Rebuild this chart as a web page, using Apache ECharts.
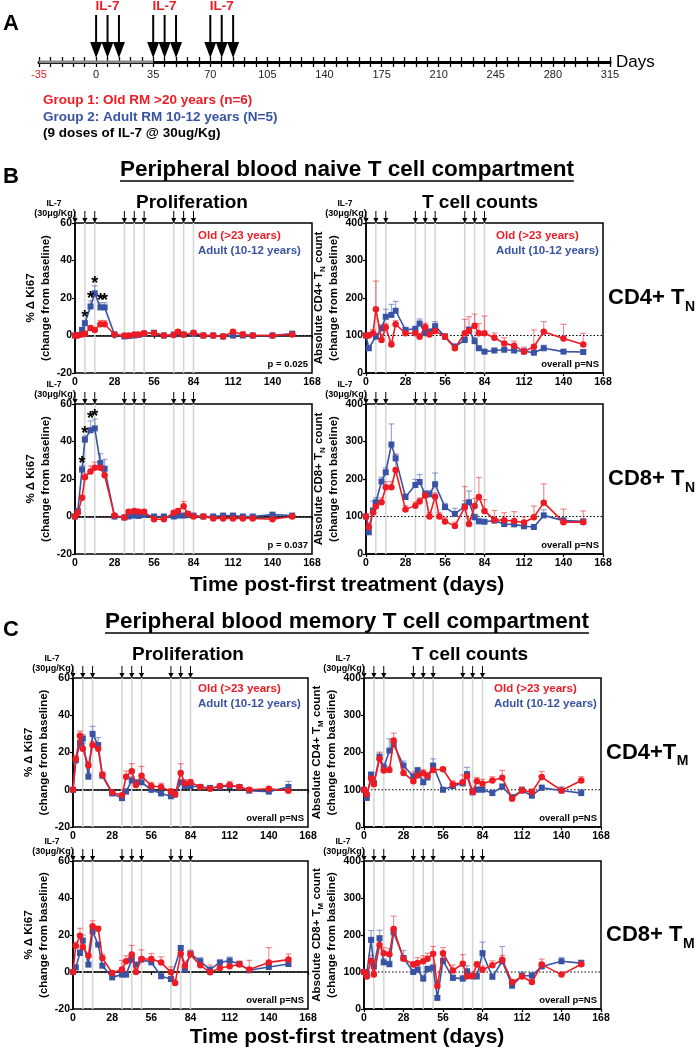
<!DOCTYPE html>
<html><head><meta charset="utf-8">
<script src="https://cdn.jsdelivr.net/npm/echarts@6/dist/echarts.min.js"></script>
<style>html,body{margin:0;padding:0;background:#fff}#c{width:697px;height:1050px}</style>
</head><body><div id="c"></div>
<script>
// ---------------- DATA ----------------
const DAYS = [0,2,5,7,11,14,18,21,28,35,38,42,45,49,52,56,63,70,73,77,80,84,91,98,105,112,119,126,140,154];
const DOSE_DAYS = [0,7,14,35,42,49,70,77,84];
const PRE_PHASE = [-35, 35];
const B1_STAR_DAYS = [7,11,14,18,21];
const B2_STAR_DAYS = [5,7,11,14];

// B: naive, proliferation CD4
const B1_ADULT = [0,0.3,3,6.5,15.5,22.5,15,15,0.5,-0.5,-0.3,0,0.3,1,null,1.5,0,0.5,null,0.5,null,1,0,0,-0.5,0,0,0,0,1];
const B1_ADULT_ERR = [0,0.5,1,1.5,3,4,2.5,2.5,0.5,0.5,0.3,0.5,0.5,0.5,null,1,0.3,0.5,null,0.5,null,0.5,0.5,0.3,0.3,0.3,0.3,0.3,0.3,0.8];
const B1_OLD = [0,0,0.5,1,4,3,6,6,0.5,0,0,0.5,0.5,1.2,null,1.2,0,0.3,2,0.5,null,1.5,0,0,-0.5,2,0.5,0,0,0.5];
const B1_OLD_ERR = [0,0.3,0.5,0.5,1,1,2,2,0.5,0.3,0.3,0.5,0.5,0.5,null,0.5,0.3,0.3,1,0.5,null,0.8,0.3,0.3,0.3,0.8,1.5,0.3,0.3,0.3];
// B: naive, proliferation CD8
const B2_ADULT = [0,3,25,41,46,47,28.5,25.5,0,-0.5,0,0.5,0.3,1,null,0,0,0,0.5,0.5,1,0.5,0,0,0.5,0.5,0,0,1,0.5];
const B2_ADULT_ERR = [0,1,2,2,5,5,5,5,1,0.5,0.5,1,0.5,0.5,null,0.5,0.5,0.5,0.5,0.5,0.5,0.5,0.5,0.5,0.5,0.5,0.5,0.5,0.5,0.5];
const B2_OLD = [0,2,10,21,24,26,26,22,0.5,-0.5,2.5,3,2.5,2.5,null,-1.5,-1.5,2,3,5.5,1.5,0,0,-1,-1,-1,-1,-1,-1.5,0];
const B2_OLD_ERR = [0,0.5,1,2,3,3,3,3,1,0.5,1,1,1,1,null,0.5,0.5,1,1,2.5,1,0.5,0.5,0.5,0.5,0.5,0.5,0.5,0.5,0.5];
// B: naive, counts CD4
const B3_ADULT = [100,66,null,97,119,150,155,166,115,118,132,106,110,125,null,97,70,88,115,85,66,57,60,62,60,58,54,66,57,56];
const B3_ADULT_ERR = [0,5,null,8,10,20,28,25,5,5,12,8,8,12,null,5,8,5,8,10,5,5,5,5,5,5,5,8,5,5];
const B3_OLD = [100,100,106,170,88,122,76,130,106,106,97,123,103,112,null,97,66,106,112,126,106,106,94,79,73,57,70,110,92,76];
const B3_OLD_ERR = [0,8,10,75,15,10,8,10,8,8,8,10,8,10,null,8,8,37,38,31,26,46,13,15,12,12,45,27,38,30];
// B: naive, counts CD8
const B4_ADULT = [100,58,116,138,193,218,292,255,152,184,192,159,159,186,null,125,107,127,138,98,87,86,89,80,79,74,72,103,89,87];
const B4_ADULT_ERR = [0,10,25,12,12,12,55,12,8,15,20,10,10,30,null,10,15,15,30,8,8,5,5,5,5,5,5,15,8,5];
const B4_OLD = [100,72,111,127,138,178,178,224,119,129,140,156,100,153,100,87,75,125,80,128,152,115,91,90,88,84,98,137,85,85];
const B4_OLD_ERR = [0,8,10,10,12,15,15,40,10,10,10,10,10,10,10,10,10,55,15,20,52,30,25,20,25,15,30,50,35,30];
// C: memory, proliferation CD4
const C1_ADULT = [0,15.8,25,27.5,7,30,24,7.5,-2,-4.5,-1,5,4,4,null,0,-2,-3.5,-2.5,4,2,2,1.5,1,1.5,2,1.5,-0.5,-1,1.5];
const C1_ADULT_ERR = [0,2,2,2,2,4,4,1.5,1,1,1.5,2,1,1,null,1,1,1,1,1,1,1,1,1,1,1,1,1,1,3];
const C1_OLD = [0,16.5,29,22,13,24,22,8,-1.5,-3,7,10,2.5,7.5,null,2,1.5,-1,-2.5,9,3.5,4,1.5,0.5,2,2.5,1.5,0,0.5,-0.5];
const C1_OLD_ERR = [0,2,2.5,3,1.5,2,2,1.5,1,1,3,4,2,5,null,2,2,1.5,1.5,5,2,1.5,1,1,1,2,1,1,1,1];
// C: memory, proliferation CD8
const C2_ADULT = [0,2.5,10.3,17,4,22,14.8,3.4,-2.9,-1.4,-1.4,6.7,4,6.7,null,5.2,-2.3,-3.8,null,13,1.3,9.9,5.8,1.3,5.2,6.1,4.3,0.9,2.7,4.3];
const C2_ADULT_ERR = [0,1,2,3,1,3,1,1,1,1,1,1,1,1,null,1,1,1,null,1,1,1,2,1,1,2,1,1,1,1];
const C2_OLD = [0,14.2,19.6,13.5,8.8,24.7,23.4,7.6,-0.5,1.3,5.8,9.4,0,7,null,7,5.2,-0.2,-6,9.9,3.4,9.4,3.6,-0.2,2.2,3.1,4,1.3,5.2,6.7];
const C2_OLD_ERR = [0,2,4,1,1,3,1,2,1,5,3,5,2,5,null,3,3,3,1,2,2.5,2.5,2,4,2.5,2.5,2,5,8,3];
// C: memory, counts CD4
const C3_ADULT = [100,78,140,118,188,160,205,222,165,135,152,120,133,165,null,100,110,117,142,93,100,100,91,108,80,98,84,105,98,91];
const C3_ADULT_ERR = [0,5,8,5,10,10,32,15,12,8,8,8,8,18,null,5,8,8,18,8,8,8,8,8,5,8,5,8,10,10];
const C3_OLD = [100,87,130,115,183,152,153,232,145,123,138,144,137,153,null,155,114,120,136,94,123,116,125,132,76,98,94,134,98,125];
const C3_OLD_ERR = [0,5,8,5,18,10,10,20,10,25,10,10,10,15,null,5,10,20,10,10,10,12,10,20,5,10,8,15,5,10];
// C: memory, counts CD8
const C4_ADULT = [100,95,187,115,191,126,121,207,138,100,106,82,108,111,30,130,84,82,102,88,88,151,87,129,63,90,90,115,129,124];
const C4_ADULT_ERR = [0,8,25,12,22,10,8,8,20,5,8,8,8,10,5,20,8,8,15,8,8,30,8,40,5,10,8,10,10,8];
const C4_OLD = [100,88,130,93,173,151,148,216,136,120,124,129,136,149,62,151,104,122,88,90,120,106,118,133,72,88,73,120,93,121];
const C4_OLD_ERR = [0,5,15,8,25,15,15,35,8,8,15,15,15,20,10,15,15,25,10,10,8,10,12,12,8,8,5,15,5,10];

// ---------------- STYLE ----------------
const FONT = '"Liberation Sans", Arial, Helvetica, sans-serif';
const RED = '#ed1c24', BLUE = '#3953a4';
const RED_ERR = 'rgba(237,28,36,0.5)', BLUE_ERR = 'rgba(57,83,164,0.5)';
const KI_TITLE = '% Δ Ki67\n(change from baseline)';

const panels = [
  {left:75, top:223, width:237, height:150, ymin:-20, ymax:60, yint:20, base:0, ytitle:KI_TITLE, gap:14,
   adult:B1_ADULT, adultErr:B1_ADULT_ERR, old:B1_OLD, oldErr:B1_OLD_ERR, stat:'p = 0.025', legend:[123,13], stars:B1_STAR_DAYS},
  {left:366, top:223, width:237, height:150, ymin:0, ymax:400, yint:100, base:100, ytitle:'Absolute CD4+ T{s|N} count\n(change from baseline)', gap:22,
   adult:B3_ADULT, adultErr:B3_ADULT_ERR, old:B3_OLD, oldErr:B3_OLD_ERR, stat:'overall p=NS', legend:[130,13], row:['CD4+ T','N']},
  {left:75, top:404, width:237, height:150, ymin:-20, ymax:60, yint:20, base:0, ytitle:KI_TITLE, gap:14,
   adult:B2_ADULT, adultErr:B2_ADULT_ERR, old:B2_OLD, oldErr:B2_OLD_ERR, stat:'p = 0.037', stars:B2_STAR_DAYS},
  {left:366, top:404, width:237, height:150, ymin:0, ymax:400, yint:100, base:100, ytitle:'Absolute CD8+ T{s|N} count\n(change from baseline)', gap:22,
   adult:B4_ADULT, adultErr:B4_ADULT_ERR, old:B4_OLD, oldErr:B4_OLD_ERR, stat:'overall p=NS', row:['CD8+ T','N']},
  {left:73, top:678, width:235, height:149, ymin:-20, ymax:60, yint:20, base:0, ytitle:KI_TITLE, gap:14,
   adult:C1_ADULT, adultErr:C1_ADULT_ERR, old:C1_OLD, oldErr:C1_OLD_ERR, stat:'overall p=NS', legend:[125,11]},
  {left:364, top:678, width:237, height:149, ymin:0, ymax:400, yint:100, base:100, ytitle:'Absolute CD4+ T{s|M} count\n(change from baseline)', gap:22,
   adult:C3_ADULT, adultErr:C3_ADULT_ERR, old:C3_OLD, oldErr:C3_OLD_ERR, stat:'overall p=NS', legend:[130,11], row:['CD4+T','M']},
  {left:73, top:861, width:235, height:148, ymin:-20, ymax:60, yint:20, base:0, ytitle:KI_TITLE, gap:14,
   adult:C2_ADULT, adultErr:C2_ADULT_ERR, old:C2_OLD, oldErr:C2_OLD_ERR, stat:'overall p=NS'},
  {left:364, top:861, width:237, height:148, ymin:0, ymax:400, yint:100, base:100, ytitle:'Absolute CD8+ T{s|M} count\n(change from baseline)', gap:22,
   adult:C4_ADULT, adultErr:C4_ADULT_ERR, old:C4_OLD, oldErr:C4_OLD_ERR, stat:'overall p=NS', row:['CD8+ T','M']}
];

const mctx = document.createElement('canvas').getContext('2d');
function tw(text, size) { mctx.font = 'bold ' + size + 'px ' + FONT; return mctx.measureText(text).width; }

function T(x, y, text, size, o) {
  o = o || {};
  const al = o.align || 'left';
  return {type:'text', x:x, y:y, silent:true, z:10, style:{text:text, fontSize:size, fontWeight:o.weight||'bold', fontFamily:FONT,
    fill:o.color||'#000', align:al, verticalAlign:'middle', textAlign:al, textVerticalAlign:'middle'}};
}
function L(x1, y1, x2, y2, w) {
  return {type:'line', silent:true, z:10, shape:{x1:x1,y1:y1,x2:x2,y2:y2}, style:{stroke:'#000', lineWidth:w}};
}

// ---------------- TIMELINE (panel A) ----------------
const grids = [{left:39, top:50, width:571, height:12}];
const xAxes = [
  {gridIndex:0, type:'value', min:-35, max:315, interval:35, position:'bottom',
   axisLine:{show:true, lineStyle:{color:'#000', width:3}},
   axisTick:{show:true, length:5, lineStyle:{color:'#000', width:1.3}},
   minorTick:{show:true, splitNumber:5, length:5, lineStyle:{color:'#000', width:1.3}},
   splitLine:{show:false},
   axisLabel:{margin:7, fontSize:11, fontFamily:FONT, color:'#222',
     formatter: v => v === -35 ? '{r|-35}' : String(v), rich:{r:{color:RED, fontSize:11, fontFamily:FONT}}}},
  {gridIndex:0, type:'value', min:-35, max:315, interval:35, position:'bottom', offset:0,
   axisLine:{show:false}, axisLabel:{show:false}, splitLine:{show:false},
   axisTick:{show:true, inside:true, length:5, lineStyle:{color:'#000', width:1.3}},
   minorTick:{show:true, splitNumber:5, length:5, lineStyle:{color:'#000', width:1.3}}}
];
const yAxes = [{gridIndex:0, type:'value', min:0, max:1, show:false}];
const series = [
  {type:'line', xAxisIndex:0, yAxisIndex:0, data:[[PRE_PHASE[0],0],[PRE_PHASE[1],0]], symbol:'none', silent:true, z:3,
   lineStyle:{color:'#8a8a8a', width:3}},
  {type:'custom', xAxisIndex:0, yAxisIndex:0, clip:false, silent:true, z:4,
   data: DOSE_DAYS.map(d => [d, 0]),
   renderItem: (params, api) => {
     const c = api.coord([api.value(0), 0]);
     const ch = [
       {type:'line', shape:{x1:c[0], y1:c[1]-47, x2:c[0], y2:c[1]-19}, style:{stroke:'#000', lineWidth:2}},
       {type:'polygon', shape:{points:[[c[0]-6,c[1]-20],[c[0]+6,c[1]-20],[c[0],c[1]-4]]}, style:{fill:'#000'}}
     ];
     if (params.dataIndex % 3 === 1) {
       ch.push({type:'text', style:{text:'IL-7', x:c[0], y:c[1]-56, fontSize:13.5, fontWeight:'bold', fontFamily:FONT, fill:RED,
         align:'center', verticalAlign:'middle', textAlign:'center', textVerticalAlign:'middle'}});
     }
     return {type:'group', children:ch};
   }}
];

const graphics = [
  T(3, 24, 'A', 22),
  T(616, 62, 'Days', 17, {weight:'normal'}),
  T(43, 100, 'Group 1: Old RM >20 years (n=6)', 13.5, {color:RED}),
  T(43, 117, 'Group 2: Adult RM 10-12 years (N=5)', 13.5, {color:BLUE}),
  T(43, 133, '(9 doses of IL-7 @ 30ug/Kg)', 13.5)
];
function section(letterY, titleY, title, subY, subL, subR, timeY) {
  graphics.push(T(3, letterY, '', 22));
  const w = tw(title, 22.5);
  graphics.push(T(347, titleY, title, 22.5, {align:'center'}));
  graphics.push(L(347 - w/2, titleY + 11, 347 + w/2, titleY + 11, 1.6));
  graphics.push(T(subL, subY, 'Proliferation', 19, {align:'center'}));
  graphics.push(T(subR, subY, 'T cell counts', 19, {align:'center'}));
  graphics.push(T(347, timeY, 'Time post-first treatment (days)', 21, {align:'center'}));
}
graphics.push(T(3, 177, 'B', 22));
graphics.push(T(3, 630, 'C', 22));
section(177, 170, 'Peripheral blood naive T cell compartment', 203, 192, 480, 585);
section(630, 622, 'Peripheral blood memory T cell compartment', 655, 188, 470, 1037);

// ---------------- PANELS ----------------
panels.forEach((p, i) => {
  const gi = i + 1, xi = i + 2, yi = i + 1;
  grids.push({left:p.left, top:p.top, width:p.width, height:p.height, show:true, borderColor:'#000', borderWidth:1.5,
    backgroundColor:'rgba(0,0,0,0)'});
  xAxes.push({gridIndex:gi, type:'value', min:0, max:168, interval:28,
    axisLine:{show:true, lineStyle:{color:'#000', width:1.5}},
    axisTick:{show:true, length:3, lineStyle:{color:'#000', width:1.2}},
    splitLine:{show:false},
    axisLabel:{margin:4, fontSize:10.5, fontWeight:'bold', fontFamily:FONT, color:'#000'}});
  yAxes.push({gridIndex:gi, type:'value', min:p.ymin, max:p.ymax, interval:p.yint,
    axisLine:{show:true, lineStyle:{color:'#000', width:1.5}},
    axisTick:{show:true, length:3, lineStyle:{color:'#000', width:1.2}},
    splitLine:{show:false},
    axisLabel:{margin:3, fontSize:10.5, fontWeight:'bold', fontFamily:FONT, color:'#000'},
    name:p.ytitle, nameLocation:'middle', nameRotate:90, nameGap:p.gap,
    nameTextStyle:{fontSize:11.5, fontWeight:'bold', fontFamily:FONT, color:'#000', lineHeight:15,
      rich:{s:{fontSize:8, fontWeight:'bold', fontFamily:FONT, color:'#000', verticalAlign:'bottom', lineHeight:15}}}});

  const pts = vals => DAYS.map((d, k) => [d, vals[k] == null ? '-' : vals[k]]);
  const errData = (vals, errs) => DAYS.map((d, k) => (vals[k] == null || errs[k] == null) ? null : [d, vals[k], vals[k] + errs[k]]).filter(Boolean);
  const errSeries = (vals, errs, color, z) => ({type:'custom', xAxisIndex:xi, yAxisIndex:yi, silent:true, z:z, clip:false,
    data: errData(vals, errs),
    renderItem: (params, api) => {
      const a = api.coord([api.value(0), api.value(1)]);
      const b = api.coord([api.value(0), api.value(2)]);
      return {type:'group', children:[
        {type:'line', shape:{x1:a[0], y1:a[1], x2:b[0], y2:b[1]}, style:{stroke:color, lineWidth:1.2}},
        {type:'line', shape:{x1:b[0]-3, y1:b[1], x2:b[0]+3, y2:b[1]}, style:{stroke:color, lineWidth:1.2}}
      ]};
    }});

  // dose reference lines inside plot
  series.push({type:'custom', xAxisIndex:xi, yAxisIndex:yi, silent:true, z:1, clip:false,
    data: DOSE_DAYS.filter(d => d > 0).map(d => [d, p.ymin]),
    renderItem: (params, api) => {
      const a = api.coord([api.value(0), p.ymin]);
      const b = api.coord([api.value(0), p.ymax]);
      return {type:'line', shape:{x1:a[0], y1:a[1], x2:b[0], y2:b[1]}, style:{stroke:'#d6d6d6', lineWidth:1.6}};
    }});
  // baseline dotted
  series.push({type:'custom', xAxisIndex:xi, yAxisIndex:yi, silent:true, z:2, clip:false,
    data: [[0, p.base]],
    renderItem: (params, api) => {
      const a = api.coord([0, api.value(1)]);
      const b = api.coord([168, api.value(1)]);
      return {type:'line', shape:{x1:a[0], y1:a[1], x2:b[0], y2:b[1]}, style:{stroke:'#000', lineWidth:1.2, lineDash:[1.5,2]}};
    }});
  // dose arrows above plot
  series.push({type:'custom', xAxisIndex:xi, yAxisIndex:yi, silent:true, z:2, clip:false,
    data: DOSE_DAYS.map(d => [d, p.ymax]),
    renderItem: (params, api) => {
      const c = api.coord([api.value(0), api.value(1)]);
      return {type:'group', children:[
        {type:'line', shape:{x1:c[0], y1:c[1]-12, x2:c[0], y2:c[1]-3}, style:{stroke:'#000', lineWidth:1}},
        {type:'polygon', shape:{points:[[c[0]-2.6,c[1]-5],[c[0]+2.6,c[1]-5],[c[0],c[1]]]}, style:{fill:'#000'}}
      ]};
    }});
  series.push(errSeries(p.adult, p.adultErr, BLUE_ERR, 3));
  series.push(errSeries(p.old, p.oldErr, RED_ERR, 3));
  series.push({type:'line', xAxisIndex:xi, yAxisIndex:yi, data:pts(p.adult), symbol:'rect', symbolSize:6, showAllSymbol:true,
    connectNulls:true, silent:true, z:4, lineStyle:{color:BLUE, width:1.6}, itemStyle:{color:BLUE}});
  series.push({type:'line', xAxisIndex:xi, yAxisIndex:yi, data:pts(p.old), symbol:'circle', symbolSize:6.5, showAllSymbol:true,
    connectNulls:true, silent:true, z:5, lineStyle:{color:RED, width:1.6}, itemStyle:{color:RED}});
  if (p.stars) {
    series.push({type:'custom', xAxisIndex:xi, yAxisIndex:yi, silent:true, z:6, clip:false,
      data: p.stars.map(d => { const k = DAYS.indexOf(d); return [d, p.adult[k] + p.adultErr[k]]; }),
      renderItem: (params, api) => {
        const c = api.coord([api.value(0), api.value(1)]);
        return {type:'text', style:{text:'*', x:c[0], y:c[1]+7, fontSize:18, fontWeight:'bold', fontFamily:FONT, fill:'#000',
          align:'center', verticalAlign:'bottom', textAlign:'center', textVerticalAlign:'bottom'}};
      }});
  }

  // texts
  graphics.push(T(p.left - 21, p.top - 19, 'IL-7', 8.5, {align:'center'}));
  graphics.push(T(p.left - 20, p.top - 9, '(30μg/Kg)', 9, {align:'center'}));
  if (p.legend) {
    graphics.push(T(p.left + p.legend[0], p.top + p.legend[1], 'Old (>23 years)', 11.5, {color:RED}));
    graphics.push(T(p.left + p.legend[0], p.top + p.legend[1] + 15, 'Adult (10-12 years)', 11.5, {color:BLUE}));
  }
  graphics.push(T(p.left + p.width - 4, p.top + p.height - 9, p.stat, 9.5, {align:'right'}));
  if (p.row) {
    const rx = p.left + p.width + 5, ry = p.top + p.height / 2;
    graphics.push(T(rx, ry, p.row[0], 22));
    graphics.push(T(rx + tw(p.row[0], 22) + 0.5, ry + 9, p.row[1], 14));
  }
});

const chart = echarts.init(document.getElementById('c'), null, {renderer:'canvas'});
chart.setOption({
  animation:false,
  backgroundColor:'#fff',
  textStyle:{fontFamily:FONT},
  grid:grids, xAxis:xAxes, yAxis:yAxes, series:series,
  graphic:{elements:graphics}
});
</script></body></html>
